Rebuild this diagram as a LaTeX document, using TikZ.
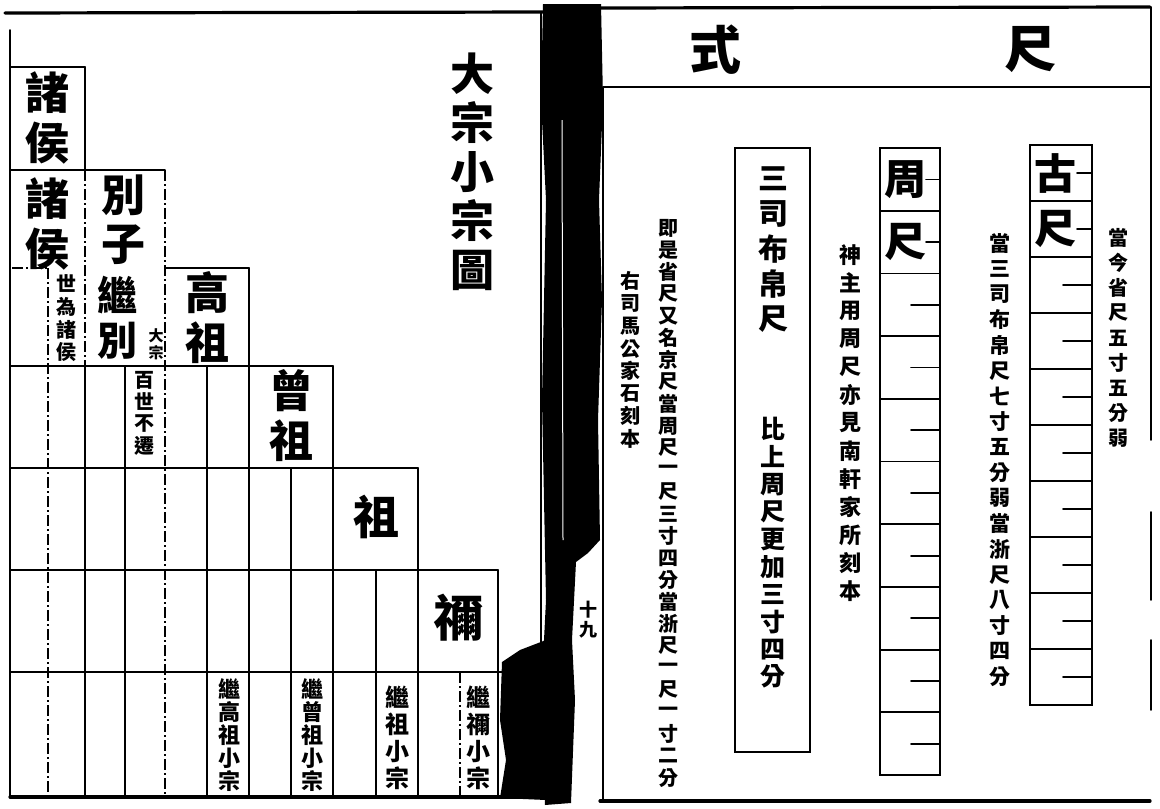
\documentclass[tikz,border=0pt]{standalone}
\usepackage{fontspec}
\newfontfamily\cjk{Noto Sans CJK TC}
\makeatletter
\newcommand\vstack[2]{\vbox{\offinterlineskip\@tfor\vs@c:=#2\do{\vbox to #1{\vss\hbox to 1em{\hss\vs@c\hss}\vss}}}}
\makeatother
\tikzset{
  ln/.style={line width=1.8pt, line cap=round},
  thk/.style={line width=3.2pt, line cap=round},
  dl/.style={line width=1.8pt, dash pattern=on 11pt off 3pt on 2pt off 3pt},
  lbl/.style={inner sep=0pt, outer sep=0pt},
  bigc/.style={lbl, font={\cjk\bfseries\fontsize{44}{44}\selectfont}},
  note/.style={lbl, font={\cjk\bfseries\fontsize{20}{20}\selectfont}},
}
\begin{document}
\begin{tikzpicture}[x=1pt,y=-1pt]
\useasboundingbox (0,0) rectangle (1160,809);
\fill[white] (0,0) rectangle (1160,809);

% ---------- page frame ----------
\draw[thk] (5,13) -- (545,12);
\draw[thk] (600,8) -- (1150,7);
\draw[ln] (10,30) -- (10,797);
\draw[thk] (10,797) -- (545,797);
\draw[thk] (600,801) -- (1150,801);
\draw[ln] (1151,7) -- (1151,440);
\draw[ln] (1151,512) -- (1151,600);
\draw[ln] (1151,640) -- (1151,710);
\draw[ln] (603,87) -- (1150,87);
\draw[ln] (603,87) -- (603,801);
\draw[ln] (541,12) -- (541,797);

% ---------- left chart grid ----------
\draw[ln] (10,67) -- (85,67);
\draw[ln] (10,170) -- (165,170);
\draw[dl] (12,268) -- (48,268);
\draw[ln] (165,268) -- (249,268);
\draw[ln] (10,366) -- (333,366);
\draw[ln] (10,468) -- (418,468);
\draw[ln] (10,570) -- (498,570);
\draw[ln] (10,672) -- (541,672);

\draw[dl] (48,268) -- (48,797);
\draw[ln] (85,67) -- (85,170);
\draw[dl] (85,170) -- (85,366);
\draw[ln] (85,366) -- (85,797);
\draw[ln] (125,366) -- (125,797);
\draw[dl] (165,170) -- (165,797);
\draw[ln] (207,366) -- (207,797);
\draw[ln] (249,268) -- (249,797);
\draw[ln] (291,468) -- (291,797);
\draw[ln] (333,366) -- (333,797);
\draw[ln] (376,570) -- (376,797);
\draw[ln] (418,468) -- (418,797);
\draw[dl] (460,672) -- (460,797);
\draw[ln] (498,570) -- (498,797);

% ---------- spine ----------
\fill[black] (543,4) -- (601,4) -- (603,100) -- (599,200) -- (602,300) -- (598,420) -- (600,540)
  -- (588,553) -- (576,562) -- (572,640) -- (575,700) -- (571,803) -- (545,805) -- (541,700)
  -- (546,600) -- (542,400) -- (546,200) -- (541,100) -- cycle;
\fill[black] (502,662) -- (520,650) -- (546,640) -- (546,800) -- (500,798) -- (506,760) -- (500,720) -- cycle;
\draw[white, line width=1pt] (562,120) -- (563,540);

% ---------- left labels ----------
\node[lbl, font={\cjk\bfseries\fontsize{44}{44}\selectfont}] (title) at (472,172) {\vstack{49pt}{大宗小宗圖}};
\node[bigc] (zh1) at (47,118) {\vstack{50pt}{諸侯}};
\node[bigc] (zh2) at (47,224) {\vstack{50pt}{諸侯}};
\node[note] (shiwei) at (66,318) {\vstack{23pt}{世為諸侯}};
\node[bigc] (biezi) at (123,220) {\vstack{50pt}{別子}};
\node[lbl, font={\cjk\bfseries\fontsize{40}{40}\selectfont}] (jibie) at (117,318) {\vstack{45pt}{繼別}};
\node[lbl, font={\cjk\bfseries\fontsize{15}{15}\selectfont}] (dazong) at (156,344) {\vstack{17pt}{大宗}};
\node[note] (baishi) at (144,413) {\vstack{22pt}{百世不遷}};
\node[bigc] (gaozu) at (207,318) {\vstack{50pt}{高祖}};
\node[bigc] (zengzu) at (291,416) {\vstack{50pt}{曾祖}};
\node[lbl, font={\cjk\bfseries\fontsize{46}{46}\selectfont}] (zu) at (376,517) {祖};
\node[lbl, font={\cjk\bfseries\fontsize{50}{50}\selectfont}] (ni) at (458,618) {禰};
\node[note, font={\cjk\bfseries\fontsize{22}{22}\selectfont}] (jg) at (229,735) {\vstack{23pt}{繼高祖小宗}};
\node[note, font={\cjk\bfseries\fontsize{22}{22}\selectfont}] (jz) at (312,735) {\vstack{23pt}{繼曾祖小宗}};
\node[note, font={\cjk\bfseries\fontsize{24}{24}\selectfont}] (jzu) at (397,738) {\vstack{27pt}{繼祖小宗}};
\node[note, font={\cjk\bfseries\fontsize{24}{24}\selectfont}] (jni) at (478,738) {\vstack{27pt}{繼禰小宗}};

% ---------- right header ----------
\node[lbl, font={\cjk\bfseries\fontsize{52}{52}\selectfont}] (shi) at (715,50) {式};
\node[lbl, font={\cjk\bfseries\fontsize{52}{52}\selectfont}] (chi) at (1030,50) {尺};

% ---------- 古尺 ----------
\draw[ln] (1030,145) rectangle (1092,705);
\foreach \k in {1,...,9} \draw[ln] (1030,{145+56*\k}) -- (1092,{145+56*\k});
\foreach \k in {0,1} \draw[ln] (1077,{173+56*\k}) -- (1092,{173+56*\k});
\foreach \k in {2,...,9} \draw[ln] (1063,{173+56*\k}) -- (1092,{173+56*\k});
\node[bigc, font={\cjk\bfseries\fontsize{42}{42}\selectfont}] (guchi) at (1055,201) {\vstack{56pt}{古尺}};

% ---------- 周尺 ----------
\draw[ln] (880,148) rectangle (940,775);
\foreach \k in {1,...,9} \draw[ln] (880,{148+62.7*\k}) -- (940,{148+62.7*\k});
\foreach \k in {0,1} \draw[ln] (926,{179.4+62.7*\k}) -- (940,{179.4+62.7*\k});
\foreach \k in {2,...,9} \draw[ln] (911,{179.4+62.7*\k}) -- (940,{179.4+62.7*\k});
\node[bigc, font={\cjk\bfseries\fontsize{42}{42}\selectfont}] (zhouchi) at (905,211) {\vstack{62.7pt}{周尺}};

% ---------- 三司布帛尺 ----------
\draw[ln] (735,148) rectangle (810,752);
\node[lbl, font={\cjk\bfseries\fontsize{30}{30}\selectfont}] (sansi) at (773,249) {\vstack{35pt}{三司布帛尺}};
\node[note, font={\cjk\bfseries\fontsize{25}{25}\selectfont}] (bishang) at (773,553) {\vstack{27.5pt}{比上周尺更加三寸四分}};

% ---------- notes ----------
\node[note] (n1) at (1118,338) {\vstack{25pt}{當今省尺五寸五分弱}};
\node[note, font={\cjk\bfseries\fontsize{21}{21}\selectfont}] (n2) at (1000,460) {\vstack{25.5pt}{當三司布帛尺七寸五分弱當浙尺八寸四分}};
\node[note, font={\cjk\bfseries\fontsize{22}{22}\selectfont}] (n3) at (850,423) {\vstack{28pt}{神主用周尺亦見南軒家所刻本}};
\node[note] (n4) at (668,503) {\vstack{22pt}{即是省尺又名京尺當周尺一尺三寸四分當浙尺一尺一寸二分}};
\node[note] (n5) at (630,360) {\vstack{22.5pt}{右司馬公家石刻本}};
\node[note, font={\cjk\bfseries\fontsize{18}{18}\selectfont}] (pg) at (588,620) {\vstack{20pt}{十九}};
\end{tikzpicture}
\end{document}
